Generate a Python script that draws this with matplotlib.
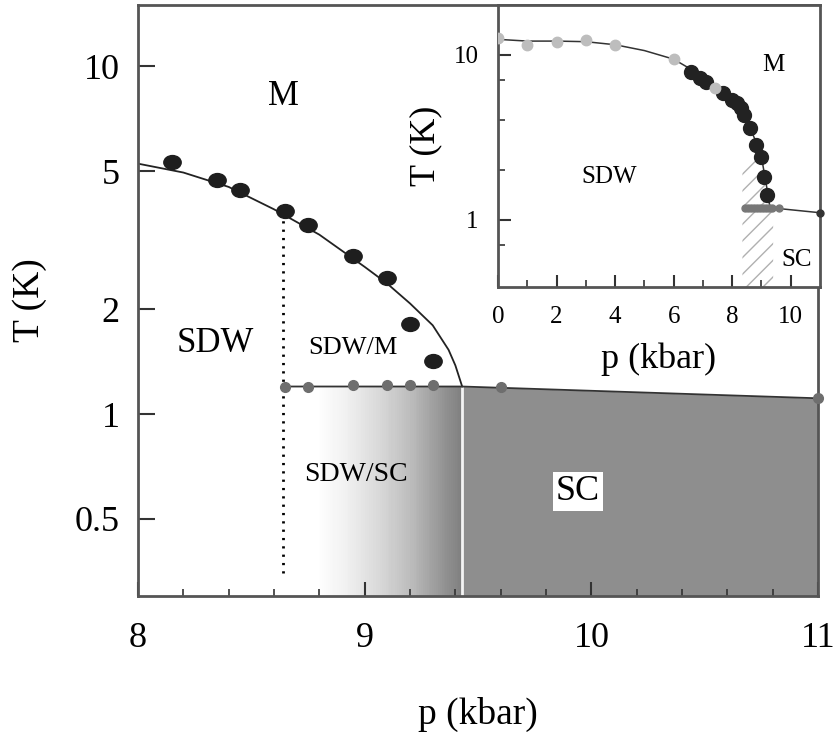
import numpy as np
import matplotlib.pyplot as plt
from matplotlib.path import Path
from matplotlib.ticker import FixedLocator, NullFormatter, NullLocator, MultipleLocator

plt.rcParams['font.family'] = ['Liberation Serif', 'DejaVu Serif']

# ---- main panel data
# SDW transition (large dark dots)
sdw_p = [8.15, 8.35, 8.45, 8.65, 8.75, 8.95, 9.10, 9.20, 9.30]
sdw_T = [5.31, 4.71, 4.41, 3.84, 3.50, 2.85, 2.47, 1.82, 1.42]
# SC onset (small grey dots)
sc_p = [8.65, 8.75, 8.95, 9.10, 9.20, 9.30, 9.60, 11.0]
sc_T = [1.20, 1.20, 1.21, 1.21, 1.21, 1.21, 1.20, 1.11]
# SDW line drawn through the points
curve_p = [8.0, 8.2, 8.4, 8.6, 8.8, 9.0, 9.1, 9.2, 9.3, 9.37, 9.40, 9.43]
curve_T = [5.25, 4.95, 4.50, 3.88, 3.28, 2.65, 2.37, 2.08, 1.80, 1.53, 1.38, 1.20]
# SC line
scline_p = [8.65, 9.43, 11.0]
scline_T = [1.20, 1.20, 1.11]
p_crit = 9.43       # SDW line meets SC line
p_dot = 8.64        # dotted SDW/SC boundary
T_dot = [0.35, 3.75]
grad_start = 8.78   # start of grey gradient

# ---- inset data
ins_light_p = [0, 1, 2, 3, 4, 6, 7.4]
ins_light_T = [12.7, 11.5, 11.9, 12.3, 11.5, 9.45, 6.3]
ins_dark_p = [6.6, 6.9, 7.1, 7.7, 8.0, 8.15, 8.3, 8.4, 8.6, 8.8, 9.0, 9.1, 9.2]
ins_dark_T = [7.9, 7.25, 6.8, 5.9, 5.33, 5.1, 4.77, 4.33, 3.6, 2.85, 2.41, 1.82, 1.4]
ins_curve_p = [0, 1, 2, 3, 4, 5, 6, 7, 7.5, 8.0, 8.4, 8.8, 9.0, 9.1, 9.2, 9.25, 9.3]
ins_curve_T = [12.4, 12.1, 12.1, 12.0, 11.5, 10.6, 9.4, 7.4, 6.3, 5.3, 4.4, 3.0, 2.4, 1.9, 1.5, 1.3, 1.18]
ins_sc_p = [8.45, 8.55, 8.65, 8.75, 8.85, 8.95, 9.05, 9.15, 9.25, 9.35, 9.6]
ins_sc_T = [1.18] * len(ins_sc_p)
ins_scline_p = [8.4, 9.3, 11.0]
ins_scline_T = [1.18, 1.18, 1.10]
hatch_p = [8.35, 9.0, 9.2, 9.4]
hatch_T = [2.3, 2.3, 1.25, 1.18]

# elliptical marker for the big dots
circ = Path.unit_circle()
ell = Path(circ.vertices * [1.25, 1.0], circ.codes)

fig = plt.figure(figsize=(8.38, 7.32), dpi=100)
ax = fig.add_axes([0.1647, 0.186, 0.8115, 0.807])
ax.set_yscale('log')
ax.set_xlim(8, 11)
ax.set_ylim(0.3, 15)

# shaded SC region
gx = np.linspace(grad_start, p_crit, 80)
gc = np.linspace(0, 1, 79)
ax.pcolormesh(gx, [0.3, scline_T[0]], gc[None, :] * 0.58, cmap='Greys',
              vmin=0, vmax=1, shading='flat', zorder=0)
ax.fill_between(scline_p[1:], 0.3, scline_T[1:], color='#8e8e8e', lw=0, zorder=0)
ax.plot([p_crit, p_crit], [0.3, scline_T[1]], color='#f4f4f4', lw=2, zorder=1)

ax.plot(curve_p, curve_T, color='#222', lw=1.3, zorder=2)
ax.plot(scline_p, scline_T, color='#333', lw=1.3, zorder=2)
ax.plot([p_dot, p_dot], T_dot, color='black', lw=2, ls=(0, (0.8, 2.2)), zorder=2)
ax.plot(sdw_p, sdw_T, ls='none', marker=ell, ms=12.5, color='#1e1e1e', zorder=3)
ax.plot(sc_p, sc_T, ls='none', marker='o', ms=7, color='#6e6e6e', zorder=3,
        clip_on=False)

ax.text(8.64, 8.2, 'M', fontsize=25, ha='center', va='center')
ax.text(8.34, 1.6, 'SDW', fontsize=25, ha='center', va='center')
ax.text(8.95, 1.55, 'SDW/M', fontsize=19, ha='center', va='center')
ax.text(8.96, 0.67, 'SDW/SC', fontsize=20, ha='center', va='center')
ax.text(9.94, 0.60, 'SC', fontsize=26, ha='center', va='center',
        bbox=dict(facecolor='white', edgecolor='none', pad=2))

ax.xaxis.set_major_locator(FixedLocator([8, 9, 10, 11]))
ax.xaxis.set_minor_locator(MultipleLocator(0.2))
ax.yaxis.set_major_locator(FixedLocator([0.5, 1, 2, 5, 10]))
ax.yaxis.set_minor_locator(NullLocator())
ax.set_yticklabels(['0.5', '1', '2', '5', '10'])
ax.yaxis.set_minor_formatter(NullFormatter())
ax.tick_params(which='major', direction='in', length=10, width=1.5,
               labelsize=26, color='#333')
ax.tick_params(axis='x', which='major', pad=19)
ax.tick_params(axis='y', which='major', pad=13, length=12)
ax.tick_params(which='minor', direction='in', length=5, width=1.2, color='#333')
ax.tick_params(top=False, right=False)
for s in ax.spines.values():
    s.set_color('#555')
    s.set_linewidth(2)
ax.set_xlabel('p (kbar)', fontsize=27, labelpad=30)
ax.set_ylabel('T (K)', fontsize=27, labelpad=20)

# ---- inset
axi = fig.add_axes([0.5943, 0.608, 0.3842, 0.385])
axi.set_yscale('log')
axi.set_xlim(0, 11)
axi.set_ylim(0.39, 20)
axi.fill_between(hatch_p, 0.39, hatch_T, facecolor='none', edgecolor='#b0b0b0',
                 hatch='//', lw=0, zorder=1)
axi.plot(ins_curve_p, ins_curve_T, color='#333', lw=1.1, zorder=2)
axi.plot(ins_scline_p, ins_scline_T, color='#333', lw=1.1, zorder=2)
axi.plot(ins_dark_p, ins_dark_T, ls='none', marker='o', ms=10, color='#222', zorder=3)
axi.plot(ins_light_p, ins_light_T, ls='none', marker='o', ms=7.5, color='#bdbdbd', zorder=4)
axi.plot(ins_sc_p, ins_sc_T, ls='none', marker='o', ms=5, color='#777', zorder=3)
axi.plot([ins_scline_p[-1]], [ins_scline_T[-1]], ls='none', marker='o', ms=5,
         color='#333', zorder=3, clip_on=False)

axi.text(9.4, 8.7, 'M', fontsize=18, ha='center', va='center')
axi.text(3.8, 1.82, 'SDW', fontsize=18, ha='center', va='center')
axi.text(10.2, 0.57, 'SC', fontsize=18, ha='center', va='center')

axi.xaxis.set_major_locator(FixedLocator([0, 2, 4, 6, 8, 10]))
axi.xaxis.set_minor_locator(FixedLocator([1, 3, 5, 7, 9]))
axi.yaxis.set_major_locator(FixedLocator([1, 10]))
axi.yaxis.set_minor_locator(FixedLocator([0.7, 2, 4, 7]))
axi.set_yticklabels(['1', '10'])
axi.yaxis.set_minor_formatter(NullFormatter())
axi.tick_params(which='major', direction='in', length=9, width=1.5,
                labelsize=18, color='#333', pad=14)
axi.tick_params(which='minor', direction='in', length=5, width=1.2, color='#333')
axi.tick_params(top=False, right=False)
for s in axi.spines.values():
    s.set_color('#555')
    s.set_linewidth(2)
axi.set_xlabel('p (kbar)', fontsize=26, labelpad=10)
axi.set_ylabel('T (K)', fontsize=26, labelpad=8)

fig.savefig('out.png', dpi=100)
